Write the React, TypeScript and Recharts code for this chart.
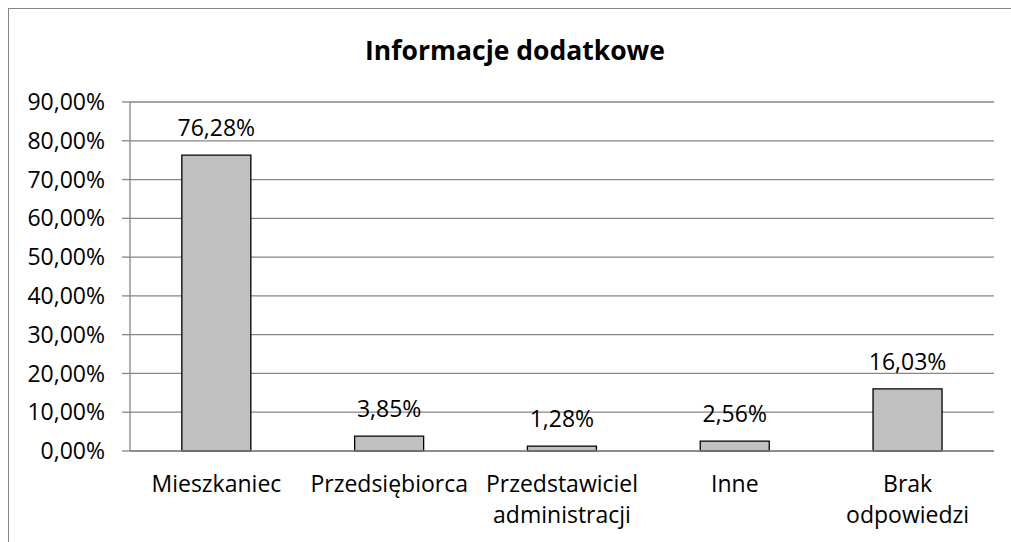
import React from "react";
import { BarChart, Bar, XAxis, YAxis, CartesianGrid, LabelList } from "recharts";

const categories = [
  "Mieszkaniec",
  "Przedsiębiorca",
  "Przedstawiciel administracji",
  "Inne",
  "Brak odpowiedzi",
];
const shares = [76.28, 3.85, 1.28, 2.56, 16.03];
const yTicks = [0, 10, 20, 30, 40, 50, 60, 70, 80, 90];
const boundaryTicks = [0, 1, 2, 3, 4, 5];

const data = categories.map((name, i) => ({ name, value: shares[i] }));

const FONT = "'Open Sans', 'Noto Sans', sans-serif";
const GRAY = "#868686";

const fmt = (v: number) => v.toFixed(2).replace(".", ",") + "%";

// category names are wrapped onto two lines at the space, like Excel does
const CategoryTick = (props: any) => {
  const { x, y, payload } = props;
  const lines = String(payload.value).split(" ");
  return (
    <text textAnchor="middle" fill="#000" fontSize={23} fontFamily={FONT}>
      {lines.map((line, i) => (
        <tspan key={i} x={x} y={y + 41 + i * 31}>
          {line}
        </tspan>
      ))}
    </text>
  );
};

export default function App() {
  return (
    <div
      style={{
        position: "absolute",
        left: 8,
        top: 8,
        width: 1003,
        height: 534,
        overflow: "hidden",
        fontFamily: FONT,
        background: "#fff",
      }}
    >
      {/* the chart frame runs off the right and bottom of the picture */}
      <div
        style={{
          position: "absolute",
          left: 0,
          top: 0,
          width: 1100,
          height: 600,
          borderTop: `1px solid ${GRAY}`,
          borderLeft: `1px solid ${GRAY}`,
          pointerEvents: "none",
        }}
      />
      <div
        style={{
          position: "absolute",
          left: 0,
          top: 24,
          width: 1014,
          textAlign: "center",
          fontSize: 26.5,
          fontWeight: 700,
          color: "#000",
        }}
      >
        Informacje dodatkowe
      </div>
      <BarChart
        width={1003}
        height={534}
        data={data}
        margin={{ top: 94, right: 17, left: 0, bottom: 0 }}
        barCategoryGap="30%"
      >
        <CartesianGrid vertical={false} stroke={GRAY} strokeWidth={1.3} />
        <XAxis
          xAxisId="b"
          type="number"
          domain={[0, 5]}
          ticks={boundaryTicks}
          axisLine={false}
          tickLine={{ stroke: GRAY, strokeWidth: 1.3 }}
          tickSize={8}
          tick={() => <g />}
          height={0}
        />
        <XAxis
          dataKey="name"
          axisLine={{ stroke: GRAY, strokeWidth: 1.3 }}
          tickLine={false}
          tickSize={0}
          tickMargin={0}
          tick={CategoryTick}
          interval={0}
          height={91}
        />
        <YAxis
          width={122}
          domain={[0, 90]}
          ticks={yTicks}
          tickFormatter={fmt}
          axisLine={{ stroke: GRAY, strokeWidth: 1.3 }}
          tickLine={{ stroke: GRAY, strokeWidth: 1.3 }}
          tickSize={8}
          tickMargin={17}
          tick={{ fill: "#000", fontSize: 23, fontFamily: FONT }}
        />
        <Bar
          dataKey="value"
          fill="#c0c0c0"
          stroke="#000"
          strokeWidth={1.3}
          isAnimationActive={false}
        >
          <LabelList
            dataKey="value"
            position="top"
            offset={19}
            formatter={(v: any) => fmt(Number(v))}
            fill="#000"
            fontSize={23}
            fontFamily={FONT}
          />
        </Bar>
      </BarChart>
    </div>
  );
}
